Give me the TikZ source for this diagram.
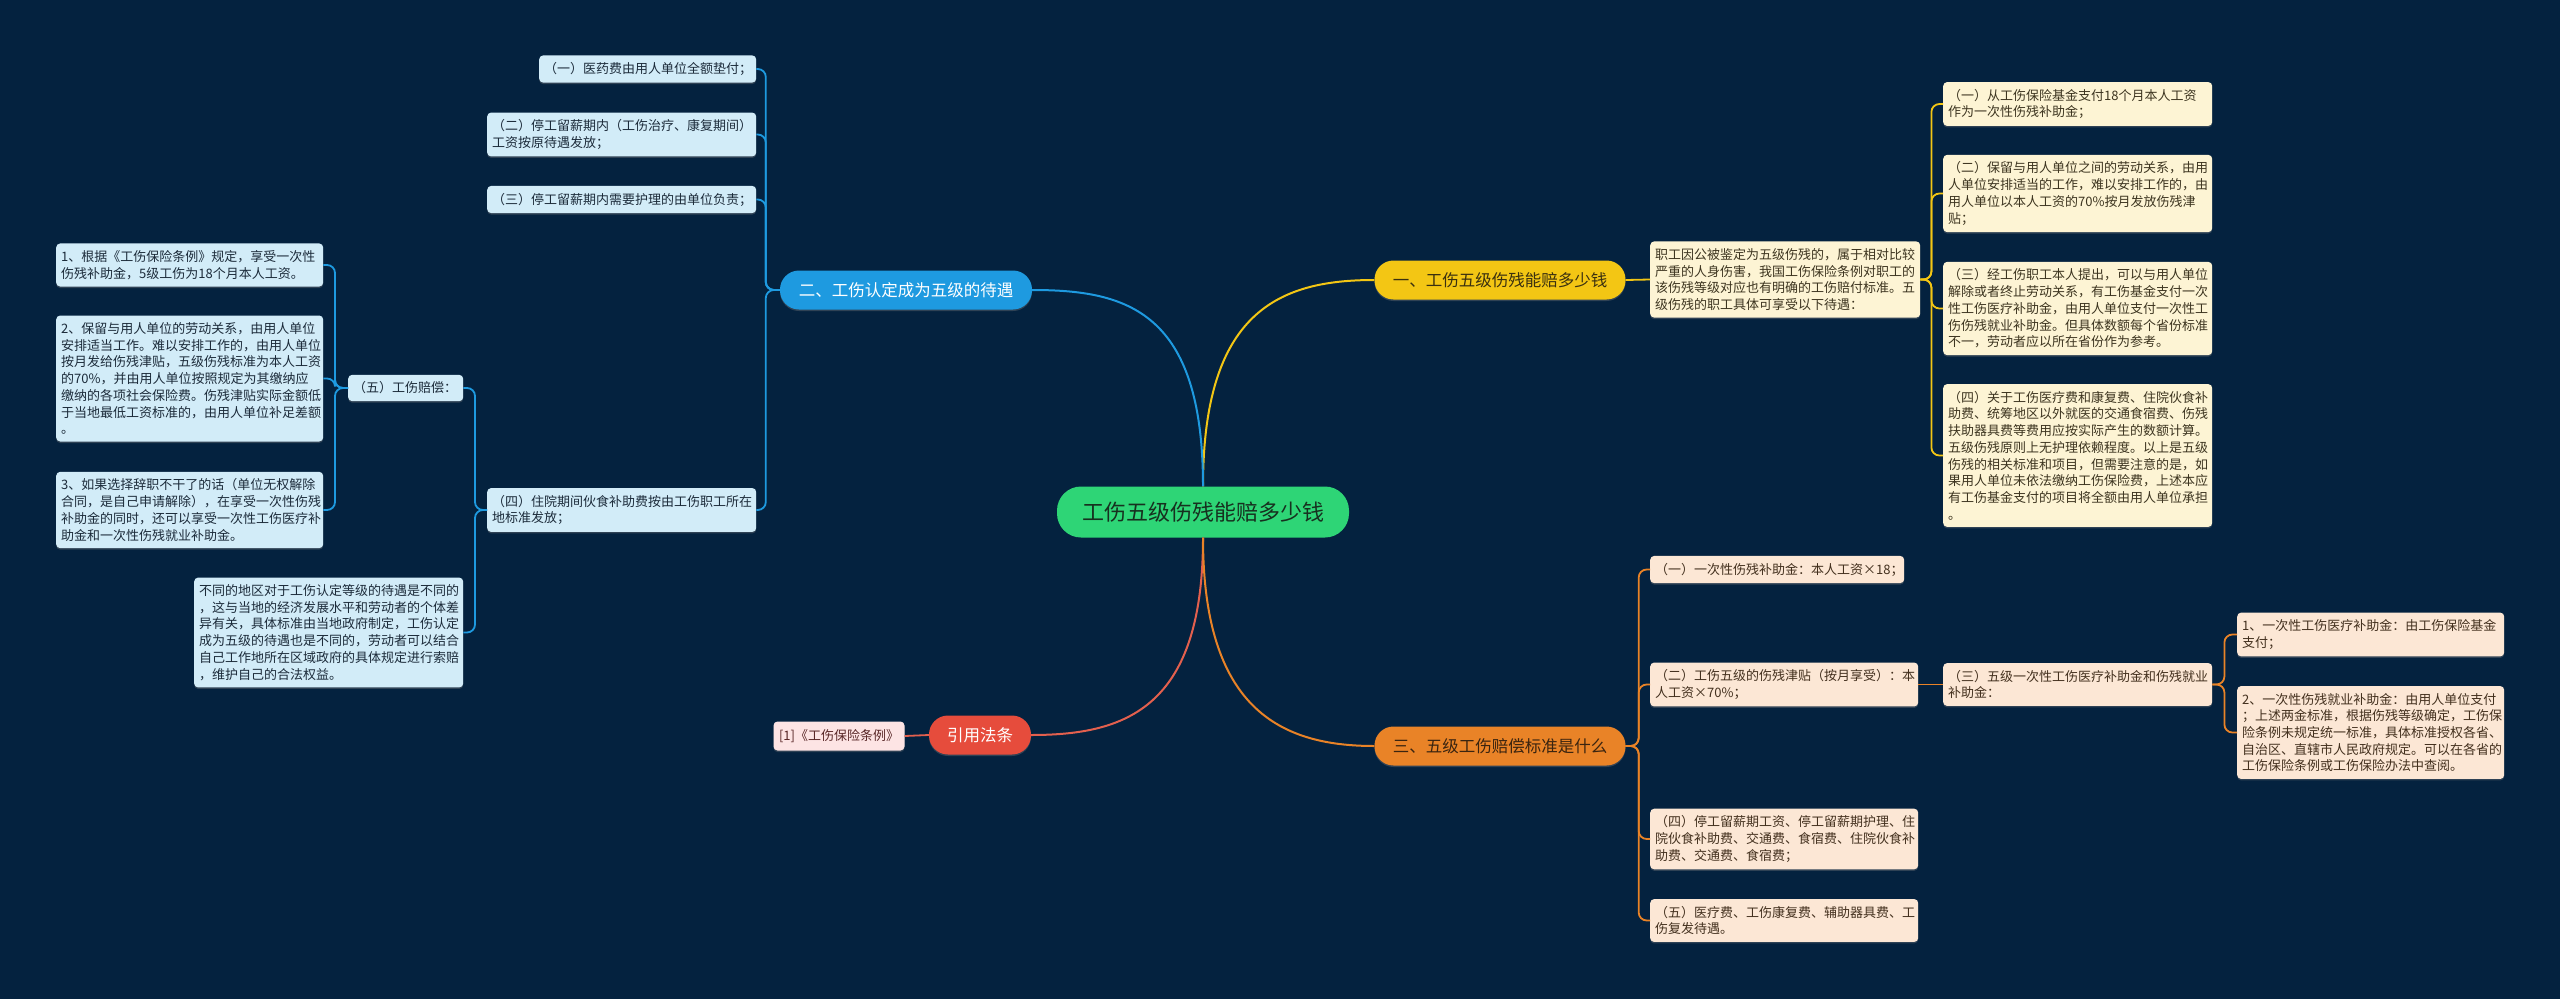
\documentclass[tikz,border=0pt]{standalone}
\usepackage{fontspec}
\newfontfamily\cjk{Noto Sans CJK SC}
\usetikzlibrary{shadows}
\definecolor{bg}{HTML}{04223F}
\definecolor{rootc}{HTML}{2ED576}
\definecolor{roott}{HTML}{17301F}
\definecolor{yelc}{HTML}{F3C614}
\definecolor{yelt}{HTML}{3A3010}
\definecolor{bluc}{HTML}{1E9AE0}
\definecolor{orac}{HTML}{E98327}
\definecolor{orat}{HTML}{3A2410}
\definecolor{redc}{HTML}{E64C3C}
\definecolor{redl}{HTML}{E3604E}
\definecolor{bbox}{HTML}{D2ECF8}
\definecolor{btxt}{HTML}{1C2B3A}
\definecolor{ybox}{HTML}{FDF4D4}
\definecolor{ytxt}{HTML}{3D3520}
\definecolor{obox}{HTML}{FCE7D5}
\definecolor{otxt}{HTML}{43301E}
\definecolor{pbox}{HTML}{FDE4E4}
\definecolor{ptxt}{HTML}{5A2828}
\begin{document}
\begin{tikzpicture}[x=1pt,y=-1pt,
  leaf/.style={rounded corners=4pt, inner xsep=5pt, inner ysep=7pt, align=left, anchor=west,
    font=\cjk\fontsize{13}{16.7}\selectfont,
    drop shadow={shadow xshift=0pt,shadow yshift=-1.5pt,opacity=.35}},
  bleaf/.style={leaf, fill=bbox, text=btxt},
  yleaf/.style={leaf, fill=ybox, text=ytxt},
  oleaf/.style={leaf, fill=obox, text=otxt},
  pleaf/.style={leaf, fill=pbox, text=ptxt, anchor=center},
  branch/.style={rounded corners=19pt, minimum height=39pt, inner sep=0pt,
    font=\cjk\fontsize{16.5}{20}\selectfont,
    drop shadow={shadow xshift=0pt,shadow yshift=-1.5pt,opacity=.35}},
  rootbox/.style={rounded corners=24pt, minimum height=51pt, minimum width=292pt, inner sep=0pt,
    fill=rootc, text=roott, font=\cjk\fontsize{22}{26}\selectfont},
  mainline/.style={line width=2pt},
  subline/.style={line width=1.8pt, rounded corners=8pt}
]
\fill[bg] (0,0) rectangle (2560,999);
\useasboundingbox (0,0) rectangle (2560,999);

% root and branches
\node[rootbox] (root) at (1203,512) {工伤五级伤残能赔多少钱};
\node[branch, fill=yelc, text=yelt, minimum width=251pt] (b1) at (1500,280) {一、工伤五级伤残能赔多少钱};
\node[branch, fill=bluc, text=white, minimum width=252pt] (b2) at (906,290) {二、工伤认定成为五级的待遇};
\node[branch, fill=orac, text=orat, minimum width=251pt] (b3) at (1500,746) {三、五级工伤赔偿标准是什么};
\node[branch, fill=redc, text=white, minimum width=102pt] (b4) at (980,735) {引用法条};
\node[pleaf, minimum width=131pt, minimum height=29pt, inner ysep=0pt] (pk) at (839,736) {[1]《工伤保险条例》};

% blue side
\node[bleaf, text width=207pt] (bA) at (539,69) {（一）医药费由用人单位全额垫付；};
\node[bleaf, text width=259pt] (bB) at (487,134.5) {（二）停工留薪期内（工伤治疗、康复期间）\\工资按原待遇发放；};
\node[bleaf, text width=259pt] (bC) at (487,199.5) {（三）停工留薪期内需要护理的由单位负责；};
\node[bleaf, text width=259pt] (bD) at (487,510) {（四）住院期间伙食补助费按由工伤职工所在\\地标准发放；};
\node[bleaf, text width=105pt] (bE) at (348,388) {（五）工伤赔偿：};
\node[bleaf, text width=257pt] (bE1) at (56,265) {1、根据《工伤保险条例》规定，享受一次性\\伤残补助金，5级工伤为18个月本人工资。};
\node[bleaf, text width=257pt] (bE2) at (56,378.5) {2、保留与用人单位的劳动关系，由用人单位\\安排适当工作。难以安排工作的，由用人单位\\按月发给伤残津贴，五级伤残标准为本人工资\\的70\%，并由用人单位按照规定为其缴纳应\\缴纳的各项社会保险费。伤残津贴实际金额低\\于当地最低工资标准的，由用人单位补足差额\\。};
\node[bleaf, text width=257pt] (bE3) at (56,510) {3、如果选择辞职不干了的话（单位无权解除\\合同，是自己申请解除），在享受一次性伤残\\补助金的同时，还可以享受一次性工伤医疗补\\助金和一次性伤残就业补助金。};
\node[bleaf, text width=259pt] (bF) at (194,632.5) {不同的地区对于工伤认定等级的待遇是不同的\\，这与当地的经济发展水平和劳动者的个体差\\异有关，具体标准由当地政府制定，工伤认定\\成为五级的待遇也是不同的，劳动者可以结合\\自己工作地所在区域政府的具体规定进行索赔\\，维护自己的合法权益。};

% yellow side
\node[yleaf, text width=260pt] (yD) at (1650,279.5) {职工因公被鉴定为五级伤残的，属于相对比较\\严重的人身伤害，我国工伤保险条例对职工的\\该伤残等级对应也有明确的工伤赔付标准。五\\级伤残的职工具体可享受以下待遇：};
\node[yleaf, text width=259pt] (yA) at (1943,104) {（一）从工伤保险基金支付18个月本人工资\\作为一次性伤残补助金；};
\node[yleaf, text width=259pt] (yB) at (1943,193.5) {（二）保留与用人单位之间的劳动关系，由用\\人单位安排适当的工作，难以安排工作的，由\\用人单位以本人工资的70\%按月发放伤残津\\贴；};
\node[yleaf, text width=259pt] (yC) at (1943,308.5) {（三）经工伤职工本人提出，可以与用人单位\\解除或者终止劳动关系，有工伤基金支付一次\\性工伤医疗补助金，由用人单位支付一次性工\\伤伤残就业补助金。但具体数额每个省份标准\\不一，劳动者应以所在省份作为参考。};
\node[yleaf, text width=259pt] (yE) at (1943,455.5) {（四）关于工伤医疗费和康复费、住院伙食补\\助费、统筹地区以外就医的交通食宿费、伤残\\扶助器具费等费用应按实际产生的数额计算。\\五级伤残原则上无护理依赖程度。以上是五级\\伤残的相关标准和项目，但需要注意的是，如\\果用人单位未依法缴纳工伤保险费，上述本应\\有工伤基金支付的项目将全额由用人单位承担\\。};

% orange side
\node[oleaf, text width=244pt] (oA) at (1650,569.5) {（一）一次性伤残补助金：本人工资×18；};
\node[oleaf, text width=258pt] (oB) at (1650,684.5) {（二）工伤五级的伤残津贴（按月享受）：本\\人工资×70\%；};
\node[oleaf, text width=259pt] (oC) at (1943,684.5) {（三）五级一次性工伤医疗补助金和伤残就业\\补助金：};
\node[oleaf, text width=257pt] (oC1) at (2237,634.5) {1、一次性工伤医疗补助金：由工伤保险基金\\支付；};
\node[oleaf, text width=257pt] (oC2) at (2237,732.5) {2、一次性伤残就业补助金：由用人单位支付\\；上述两金标准，根据伤残等级确定，工伤保\\险条例未规定统一标准，具体标准授权各省、\\自治区、直辖市人民政府规定。可以在各省的\\工伤保险条例或工伤保险办法中查阅。};
\node[oleaf, text width=258pt] (oD) at (1650,839) {（四）停工留薪期工资、停工留薪期护理、住\\院伙食补助费、交通费、食宿费、住院伙食补\\助费、交通费、食宿费；};
\node[oleaf, text width=258pt] (oE) at (1650,920.5) {（五）医疗费、工伤康复费、辅助器具费、工\\伤复发待遇。};

% main curves
\draw[mainline, yelc] (root.north) .. controls +(0,-175) and +(-95,0) .. (b1.west);
\draw[mainline, bluc] (root.north) .. controls +(0,-175) and +(95,0) .. (b2.east);
\draw[mainline, redl] (root.south) .. controls +(0,170) and +(95,0) .. (b4.east);
\draw[mainline, orac] (root.south) .. controls +(0,170) and +(-95,0) .. (b3.west);

% yellow connectors
\draw[subline, yelc] (b1.east) -- (yD.west);
\foreach \c in {yA,yB,yC,yE} \draw[subline, yelc] (yD.east) -- ++(11,0) |- (\c.west);

% blue connectors
\foreach \c in {bA,bB,bC,bD} \draw[subline, bluc] (b2.west) -- ++(-14,0) |- (\c.east);
\foreach \c in {bE,bF} \draw[subline, bluc] (bD.west) -- ++(-12,0) |- (\c.east);
\foreach \c in {bE1,bE2,bE3} \draw[subline, bluc] (bE.west) -- ++(-13,0) |- (\c.east);

% red connector
\draw[subline, redl] (b4.west) -- (pk.east);

% orange connectors
\foreach \c in {oA,oB,oD,oE} \draw[subline, orac] (b3.east) -- ++(13,0) |- (\c.west);
\draw[subline, orac] (oB.east) -- (oC.west);
\foreach \c in {oC1,oC2} \draw[subline, orac] (oC.east) -- ++(12,0) |- (\c.west);
\end{tikzpicture}
\end{document}
